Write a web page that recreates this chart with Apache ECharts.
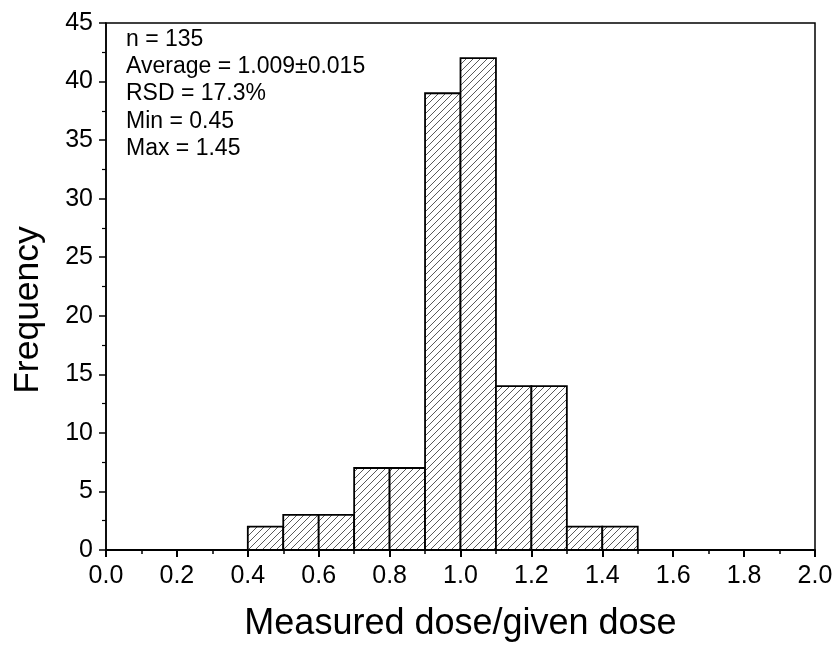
<!DOCTYPE html>
<html><head><meta charset="utf-8">
<script src="https://cdn.jsdelivr.net/npm/echarts@6/dist/echarts.min.js"></script>
<style>html,body{margin:0;padding:0;background:#fff}#c{width:838px;height:647px}</style>
</head><body><div id="c"></div>
<script>
const binStart = [0.4, 0.5, 0.6, 0.7, 0.8, 0.9, 1.0, 1.1, 1.2, 1.3, 1.4];
const binEnd   = [0.5, 0.6, 0.7, 0.8, 0.9, 1.0, 1.1, 1.2, 1.3, 1.4, 1.5];
const counts   = [2, 3, 3, 7, 7, 39, 42, 14, 14, 2, 2];
const statsLines = ['n = 135', 'Average = 1.009\u00b10.015', 'RSD = 17.3%', 'Min = 0.45', 'Max = 1.45'];
const xTitle = 'Measured dose/given dose';
const yTitle = 'Frequency';

// hatch pattern
const pc = document.createElement('canvas');
pc.width = 7; pc.height = 7;
const pctx = pc.getContext('2d');
pctx.fillStyle = '#fff'; pctx.fillRect(0,0,7,7);
pctx.strokeStyle = '#5a5a5a'; pctx.lineWidth = 1;
pctx.beginPath();
pctx.moveTo(-1, 8); pctx.lineTo(8, -1);
pctx.moveTo(-8, 8); pctx.lineTo(1, -1);
pctx.moveTo(6, 8); pctx.lineTo(15, -1);
pctx.stroke();

const data = binStart.map((s, i) => [s, binEnd[i], counts[i]]);
const font = 'Liberation Sans, Arial, sans-serif';
const chart = echarts.init(document.getElementById('c'));
chart.setOption({
  animation: false,
  backgroundColor: '#fff',
  grid: { left: 106, right: 23, top: 23, bottom: 95, show: true, borderColor: '#000', borderWidth: 1.5 },
  xAxis: {
    type: 'value', min: 0, max: 2, interval: 0.2,
    name: xTitle, nameLocation: 'middle', nameGap: 56,
    nameTextStyle: { fontFamily: font, fontSize: 36, color: '#000' },
    axisLine: { show: true, onZero: false, lineStyle: { color: '#000', width: 2 } },
    axisTick: { show: true, length: 7, lineStyle: { color: '#000', width: 2 } },
    minorTick: { show: true, splitNumber: 2, length: 4, lineStyle: { color: '#000', width: 1.5 } },
    axisLabel: { fontFamily: font, fontSize: 25, color: '#000', margin: 14, formatter: v => v.toFixed(1) },
    splitLine: { show: false }
  },
  yAxis: {
    type: 'value', min: 0, max: 45, interval: 5,
    axisLine: { show: true, lineStyle: { color: '#000', width: 1.5 } },
    axisTick: { show: true, length: 7, lineStyle: { color: '#000', width: 1.5 } },
    minorTick: { show: true, splitNumber: 2, length: 4, lineStyle: { color: '#000', width: 1.2 } },
    axisLabel: { fontFamily: font, fontSize: 25, color: '#000', margin: 13 },
    splitLine: { show: false }
  },
  graphic: [{
    type: 'text', left: 126, top: 26,
    style: { text: statsLines.join('\n'), fontFamily: font, fontSize: 23, lineHeight: 27.2, fill: '#000' }
  }, {
    type: 'text', x: 28, y: 310, rotation: Math.PI / 2,
    style: { text: yTitle, fontFamily: font, fontSize: 35.5, fill: '#000', align: 'center', verticalAlign: 'middle' }
  }],
  series: [{
    type: 'custom',
    data: data,
    encode: { x: [0, 1], y: 2 },
    renderItem: function (params, api) {
      const p0 = api.coord([api.value(0), 0]);
      const p1 = api.coord([api.value(1), api.value(2)]);
      return {
        type: 'rect',
        shape: { x: p0[0], y: p1[1], width: p1[0] - p0[0], height: p0[1] - p1[1] },
        style: { fill: { image: pc, repeat: 'repeat' }, stroke: '#000', lineWidth: 1.8 }
      };
    }
  }]
});
</script></body></html>
